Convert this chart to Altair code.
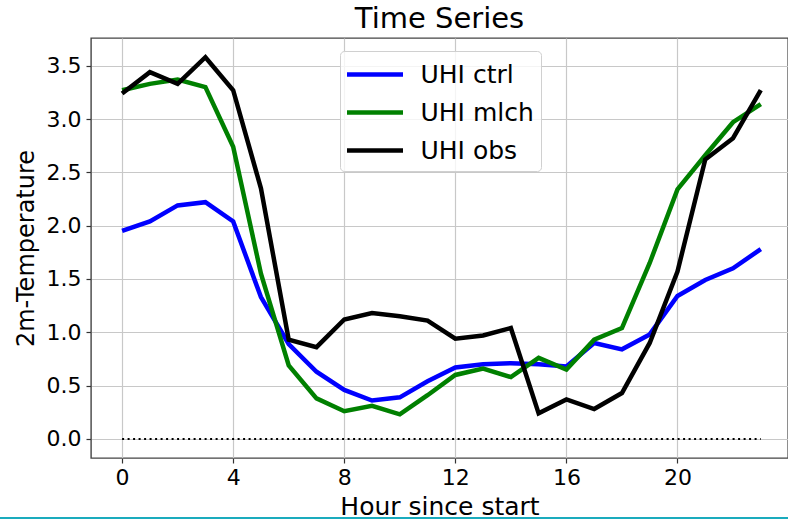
import altair as alt
import pandas as pd

# Hourly urban heat island series
hours = list(range(24))
uhi_ctrl = [1.95, 2.04, 2.19, 2.22, 2.04, 1.33, 0.89, 0.63, 0.46, 0.36, 0.39, 0.54,
            0.67, 0.70, 0.71, 0.70, 0.68, 0.90, 0.84, 0.98, 1.34, 1.49, 1.60, 1.78]
uhi_mlch = [3.27, 3.33, 3.37, 3.30, 2.74, 1.55, 0.69, 0.38, 0.26, 0.31, 0.23, 0.41,
            0.60, 0.66, 0.58, 0.76, 0.65, 0.93, 1.04, 1.65, 2.34, 2.66, 2.97, 3.14]
uhi_obs = [3.24, 3.44, 3.33, 3.58, 3.27, 2.35, 0.93, 0.86, 1.12, 1.18, 1.15, 1.11,
           0.94, 0.97, 1.04, 0.24, 0.37, 0.28, 0.43, 0.90, 1.57, 2.62, 2.82, 3.27]

series_names = ["UHI ctrl", "UHI mlch", "UHI obs"]
series_colors = ["#0000ff", "#008000", "#000000"]

x_ticks = [0, 4, 8, 12, 16, 20]
y_ticks = [0.0, 0.5, 1.0, 1.5, 2.0, 2.5, 3.0, 3.5]

rows = []
for name, vals in zip(series_names, [uhi_ctrl, uhi_mlch, uhi_obs]):
    for h, v in zip(hours, vals):
        rows.append({"hour": h, "value": v, "series": name})
df = pd.DataFrame(rows)

zero_df = pd.DataFrame({"x0": [hours[0]], "x1": [hours[-1]], "y": [0.0]})

FONT = "DejaVu Sans"

x_scale = alt.Scale(domain=[-1.12, 23.98], nice=False, zero=False)
y_scale = alt.Scale(domain=[-0.179, 3.76], nice=False, zero=False)

x_axis = alt.Axis(values=x_ticks, title="Hour since start", grid=True,
                  labelFontSize=22, titleFontSize=25, tickSize=5,
                  labelPadding=4, titlePadding=6, labelFlush=False)
y_axis = alt.Axis(values=y_ticks, format=".1f", title="2m-Temperature", grid=True,
                  labelFontSize=22, titleFontSize=24, tickSize=5,
                  labelPadding=5, titlePadding=8)

# long flat legend swatch: a path twice as wide as the nominal symbol size
swatch = "M-2,0H2"

lines = alt.Chart(df).mark_line(strokeWidth=4.5, strokeJoin="miter").encode(
    x=alt.X("hour:Q", scale=x_scale, axis=x_axis),
    y=alt.Y("value:Q", scale=y_scale, axis=y_axis),
    color=alt.Color("series:N",
                    scale=alt.Scale(domain=series_names, range=series_colors),
                    legend=alt.Legend(title=None, orient="none",
                                      legendX=249, legendY=13,
                                      symbolType=swatch, symbolSize=784,
                                      symbolStrokeWidth=4.5, symbolOffset=11.5,
                                      labelFontSize=25, labelOffset=29,
                                      rowPadding=8, padding=7,
                                      fillColor="rgba(255,255,255,0.8)",
                                      strokeColor="#d0d0d0", cornerRadius=4)),
    order=alt.Order("hour:Q"),
)

zero_line = alt.Chart(zero_df).mark_rule(
    color="black", strokeWidth=2, strokeDash=[2, 3.5]
).encode(
    x=alt.X("x0:Q", scale=x_scale),
    x2="x1:Q",
    y=alt.Y("y:Q", scale=y_scale),
)

# thin teal rule along the bottom edge of the page
edge = alt.Chart(zero_df).mark_rule(color="#1aabbd", strokeWidth=2, clip=False).encode(
    x=alt.value(-91), x2=alt.value(697), y=alt.value(480)
)

chart = alt.layer(zero_line, lines, edge).properties(
    width=697, height=420,
    title=alt.Title("Time Series", fontSize=29, font=FONT, fontWeight="normal",
                    anchor="middle", offset=4, color="black"),
    autosize=alt.AutoSizeParams(type="none"),
    padding={"left": 91, "top": 38, "right": 0, "bottom": 61},
).configure(
    font=FONT,
).configure_axis(
    labelFont=FONT, titleFont=FONT, labelColor="black", titleColor="black",
    titleFontWeight="normal", gridColor="#c8c8c8", gridWidth=1.2,
    domain=False, tickColor="#333333", tickWidth=1.2,
).configure_view(
    stroke="#444444", strokeWidth=1.4,
).configure_legend(
    labelFont=FONT, labelColor="black",
)

chart.save("out.html", embed_options={"renderer": "svg", "actions": False})
